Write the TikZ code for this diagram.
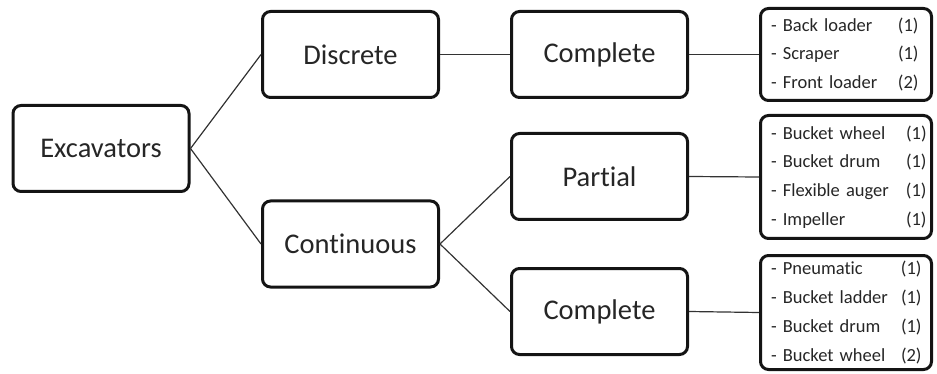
\documentclass[tikz,border=0pt]{standalone}
\usepackage{fontspec}
\setmainfont{Carlito}[Ligatures=NoCommon]
\begin{document}
\begin{tikzpicture}[x=1pt,y=-1pt,
  box/.style={draw=black!92, line width=3pt, rounded corners=8pt, fill=white,
    text=black!85, inner sep=0pt},
  mainbox/.style={box, minimum width=176pt, minimum height=86pt,
    font=\fontsize{28.5}{32}\selectfont},
  listbox/.style={box, minimum width=171pt, text width=150pt, align=left,
    font=\fontsize{18.5}{28.7}\selectfont},
  link/.style={draw=black!80, line width=1.2pt}]
\useasboundingbox (0,0) rectangle (937,374);

% tree levels
\node[mainbox] (exc)  at (101,148.5) {Excavators};
\node[mainbox] (disc) at (350.5,54.5) {Discrete};
\node[mainbox] (cont) at (350.5,244) {Continuous};
\node[mainbox] (dcomp) at (599.5,54.5) {Complete};
\node[mainbox] (part)  at (599.5,176.5) {Partial};
\node[mainbox] (ccomp) at (599.5,311.5) {Complete};

% machine lists
\node[listbox, minimum height=92pt] (l1) at (846,54.5) {%
  \makebox[127pt][l]{- Back loader}(1)\\
  \makebox[127pt][l]{- Scraper}(1)\\
  \makebox[127pt][l]{- Front loader}(2)};
\node[listbox, minimum height=123pt] (l2) at (846,177) {%
  \makebox[135pt][l]{- Bucket wheel}(1)\\
  \makebox[135pt][l]{- Bucket drum}(1)\\
  \makebox[135pt][l]{- Flexible auger}(1)\\
  \makebox[135pt][l]{- Impeller}(1)};
\node[listbox, minimum height=114pt] (l3) at (846,312.5) {%
  \makebox[130pt][l]{- Pneumatic}(1)\\
  \makebox[130pt][l]{- Bucket ladder}(1)\\
  \makebox[130pt][l]{- Bucket drum}(1)\\
  \makebox[130pt][l]{- Bucket wheel}(2)};

% connectors
\draw[link] (exc.east) -- (disc.west);
\draw[link] (exc.east) -- (cont.west);
\draw[link] (disc.east) -- (dcomp.west);
\draw[link] (cont.east) -- (part.west);
\draw[link] (cont.east) -- (ccomp.west);
\draw[link] (dcomp.east) -- (l1.west);
\draw[link] (part.east) -- (l2.west);
\draw[link] (ccomp.east) -- (l3.west);
\end{tikzpicture}
\end{document}
